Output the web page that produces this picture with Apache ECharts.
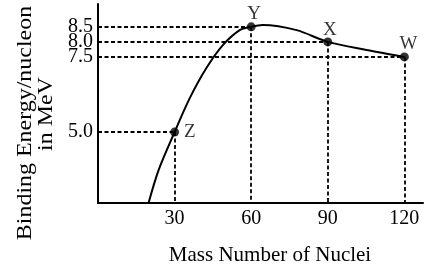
<!DOCTYPE html>
<html>
<head>
<meta charset="utf-8">
<script src="https://cdn.jsdelivr.net/npm/echarts@6/dist/echarts.min.js"></script>
<style>
  html, body { margin: 0; padding: 0; background: #fff; }
  #chart { width: 425px; height: 269px; }
</style>
</head>
<body>
<div id="chart"></div>
<script>
// binding energy curve
const curveMass = [19.8, 23.8, 30, 35.9, 42.4, 48.9, 55.5, 60, 64.5, 77.8, 90, 105.2, 120]
const curveEnergy = [2.64, 3.75, 5.0, 6.12, 7.12, 7.89, 8.39, 8.5, 8.56, 8.39, 8.0, 7.73, 7.5]

// marked nuclei
const pointNames = ['Z', 'Y', 'X', 'W']
const pointMass = [30, 60, 90, 120]
const pointEnergy = [5.0, 8.5, 8.0, 7.5]

// tick labels
const xTicks = [30, 60, 90, 120]
const yTicks = [5.0, 7.5, 8.0, 8.5]

const xMin = 0
const xMax = 127.3
const yMin = 2.64
const yMax = 9.26

const font = 'Liberation Serif'

const labelPos = {
  Z: { position: 'right', distance: 5, offset: [0, 0] },
  Y: { position: 'top', distance: -1, offset: [3, 0] },
  X: { position: 'top', distance: -2, offset: [2, 0] },
  W: { position: 'top', distance: -1, offset: [4, 0] },
}

const guides = []
pointMass.forEach((m, i) => {
  const e = pointEnergy[i]
  guides.push([{ coord: [xMin, e] }, { coord: [m, e] }])
  guides.push([{ coord: [m, e] }, { coord: [m, yMin] }])
})

// 8.0 and 8.5 sit very close, so the y labels are shared between two
// identical axes to stop echarts from dropping one of them
function yAxisWith(values, showLine) {
  return {
    type: 'value',
    position: 'left',
    offset: 0,
    min: yMin,
    max: yMax,
    splitLine: { show: false },
    axisTick: { show: false },
    axisLine: { show: showLine, lineStyle: { color: '#000', width: 2 } },
    axisLabel: {
      customValues: values,
      showMinLabel: true,
      showMaxLabel: true,
      hideOverlap: false,
      formatter: (v) => v.toFixed(1),
      color: '#000',
      fontFamily: font,
      fontSize: 20,
      margin: 5,
    },
  }
}

const chart = echarts.init(document.getElementById('chart'))
chart.setOption({
  animation: false,
  grid: { left: 98, right: 2, top: 4, bottom: 66 },
  xAxis: {
    type: 'value',
    min: xMin,
    max: xMax,
    splitLine: { show: false },
    axisTick: { show: false },
    axisLine: { lineStyle: { color: '#000', width: 2 } },
    axisLabel: {
      customValues: xTicks,
      showMinLabel: true,
      showMaxLabel: true,
      color: '#000',
      fontFamily: font,
      fontSize: 20,
      margin: 6,
    },
  },
  yAxis: [
    yAxisWith(yTicks.filter((v, i) => i % 2 === 0), true),
    yAxisWith(yTicks.filter((v, i) => i % 2 === 1), false),
  ],
  graphic: [
    {
      type: 'text',
      x: 25,
      y: 123,
      rotation: Math.PI / 2,
      scaleX: 1.14,
      style: {
        text: 'Binding Energy/nucleon',
        font: '21px "Liberation Serif"',
        fill: '#000',
        align: 'center',
        verticalAlign: 'middle',
      },
    },
    {
      type: 'text',
      x: 46,
      y: 114,
      rotation: Math.PI / 2,
      scaleX: 1.14,
      style: {
        text: 'in MeV',
        font: '21px "Liberation Serif"',
        fill: '#000',
        align: 'center',
        verticalAlign: 'middle',
      },
    },
    {
      type: 'text',
      x: 270,
      y: 255,
      style: {
        text: 'Mass Number of Nuclei',
        font: '21px "Liberation Serif"',
        fill: '#000',
        align: 'center',
        verticalAlign: 'middle',
      },
    },
  ],
  series: [
    {
      type: 'line',
      data: curveMass.map((m, i) => [m, curveEnergy[i]]),
      smooth: 0.3,
      showSymbol: false,
      silent: true,
      lineStyle: { color: '#000', width: 2 },
    },
    {
      type: 'scatter',
      symbolSize: 9,
      itemStyle: { color: '#000' },
      silent: true,
      z: 5,
      data: pointMass.map((m, i) => ({
        value: [m, pointEnergy[i]],
        name: pointNames[i],
        label: labelPos[pointNames[i]],
      })),
      label: {
        show: true,
        formatter: (p) => p.name,
        color: '#000',
        fontFamily: font,
        fontSize: 19,
      },
      markLine: {
        silent: true,
        symbol: ['none', 'none'],
        label: { show: false },
        lineStyle: { color: '#000', width: 1.8, type: [4, 2.5] },
        data: guides,
      },
    },
  ],
})
</script>
</body>
</html>
